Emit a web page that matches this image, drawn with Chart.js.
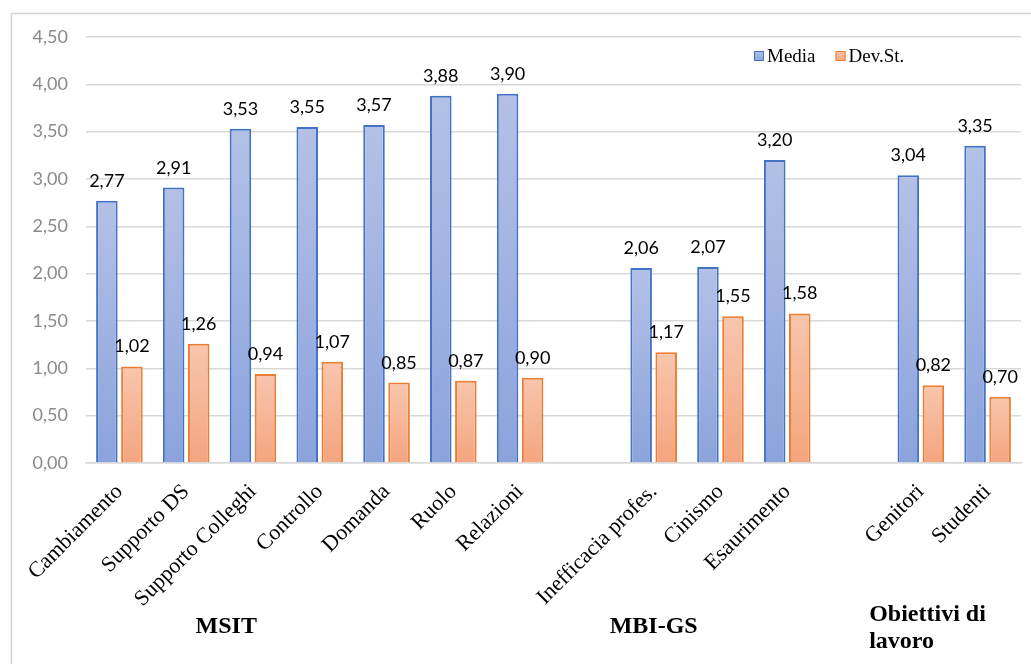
<!DOCTYPE html>
<html>
<head>
<meta charset="utf-8">
<script src="https://cdn.jsdelivr.net/npm/chart.js@4.4.1/dist/chart.umd.min.js"></script>
<style>
  html, body { margin: 0; padding: 0; background: #ffffff; }
  #wrap { width: 1031px; height: 664px; position: relative; }
</style>
</head>
<body>
<div id="wrap"><canvas id="c" width="1031" height="664"></canvas></div>
<script>
// Scale names; empty entries leave a gap between the three questionnaires
const categories = [
  'Cambiamento', 'Supporto DS', 'Supporto Colleghi', 'Controllo', 'Domanda', 'Ruolo', 'Relazioni',
  '',
  'Inefficacia profes.', 'Cinismo', 'Esaurimento',
  '',
  'Genitori', 'Studenti'
];
const media  = [2.77, 2.91, 3.53, 3.55, 3.57, 3.88, 3.90, null, 2.06, 2.07, 3.20, null, 3.04, 3.35];
const devSt  = [1.02, 1.26, 0.94, 1.07, 0.85, 0.87, 0.90, null, 1.17, 1.55, 1.58, null, 0.82, 0.70];
const seriesNames = ['Media', 'Dev.St.'];
const yTicks = [0, 0.5, 1, 1.5, 2, 2.5, 3, 3.5, 4, 4.5];

// Questionnaire captions under the axis: text lines and the category index they sit at
const groupNames = [['MSIT'], ['MBI-GS'], ['Obiettivi di', 'lavoro']];
const groupAt = [1.6, 8.0, 12.1];

const fmt = v => v.toFixed(2).replace('.', ',');

const palette = {
  media: { top: '#b3c1e6', bottom: '#8ba3dc', border: '#4472c4' },
  dev:   { top: '#f8c6ae', bottom: '#f4a57f', border: '#ed7d31' }
};

// Each bar gets its own vertical gradient, light at the top and deeper at the base
function barGradient(p) {
  return function (context) {
    const chart = context.chart;
    const area = chart.chartArea;
    const raw = context.raw;
    if (!area || raw === null || raw === undefined) return p.bottom;
    const y = chart.scales.y;
    const top = y.getPixelForValue(raw);
    const base = y.getPixelForValue(0);
    const g = chart.ctx.createLinearGradient(0, top, 0, base);
    g.addColorStop(0, p.top);
    g.addColorStop(1, p.bottom);
    return g;
  };
}

const framePlugin = {
  id: 'frame',
  beforeDraw(chart) {
    const ctx = chart.ctx;
    ctx.save();
    ctx.strokeStyle = '#d4d4d4';
    ctx.lineWidth = 1.5;
    ctx.strokeRect(11.5, 13.5, 1100, 700);
    ctx.restore();
  }
};

const valueLabels = {
  id: 'valueLabels',
  afterDatasetsDraw(chart) {
    const ctx = chart.ctx;
    ctx.save();
    ctx.font = '18px Lato';
    ctx.fillStyle = '#000000';
    ctx.textAlign = 'center';
    ctx.textBaseline = 'alphabetic';
    chart.data.datasets.forEach((ds, di) => {
      const meta = chart.getDatasetMeta(di);
      meta.data.forEach((bar, i) => {
        const v = ds.data[i];
        if (v === null || v === undefined) return;
        ctx.fillText(fmt(v), bar.x, bar.y - 14);
      });
    });
    ctx.restore();
  }
};

const legendBox = {
  id: 'legendBox',
  afterDraw(chart) {
    const ctx = chart.ctx;
    const area = chart.chartArea;
    const colors = [palette.media, palette.dev];
    let x = area.right - 267;
    const y = 56;
    ctx.save();
    ctx.font = '19px "Liberation Serif"';
    ctx.textBaseline = 'middle';
    ctx.textAlign = 'left';
    chart.data.datasets.forEach((ds, i) => {
      const c = colors[i];
      const g = ctx.createLinearGradient(0, y - 5, 0, y + 5);
      g.addColorStop(0, c.top);
      g.addColorStop(1, c.bottom);
      ctx.fillStyle = g;
      ctx.fillRect(x, y - 5, 10, 10);
      ctx.strokeStyle = c.border;
      ctx.lineWidth = 1;
      ctx.strokeRect(x + 0.5, y - 4.5, 9, 9);
      ctx.fillStyle = '#000000';
      ctx.fillText(ds.label, x + 13, y + 1);
      x += 13 + ctx.measureText(ds.label).width + 20;
    });
    ctx.restore();
  }
};

const groupCaptions = {
  id: 'groupCaptions',
  afterDraw(chart) {
    const ctx = chart.ctx;
    const xs = chart.scales.x;
    ctx.save();
    ctx.font = 'bold 24px "Liberation Serif"';
    ctx.fillStyle = '#000000';
    ctx.textBaseline = 'alphabetic';
    groupNames.forEach((lines, gi) => {
      const cx = xs.getPixelForValue(groupAt[gi]);
      if (lines.length === 1) {
        ctx.textAlign = 'center';
        ctx.fillText(lines[0], cx, 633);
      } else {
        ctx.textAlign = 'left';
        const w = ctx.measureText(lines[0]).width;
        lines.forEach((t, li) => ctx.fillText(t, cx - w / 2, 621 + li * 27));
      }
    });
    ctx.restore();
  }
};

new Chart(document.getElementById('c'), {
  type: 'bar',
  data: {
    labels: categories,
    datasets: [
      {
        label: seriesNames[0],
        data: media,
        backgroundColor: barGradient(palette.media),
        borderColor: palette.media.border,
        borderWidth: 2,
        categoryPercentage: 0.75,
        barPercentage: 0.86
      },
      {
        label: seriesNames[1],
        data: devSt,
        backgroundColor: barGradient(palette.dev),
        borderColor: palette.dev.border,
        borderWidth: 2,
        categoryPercentage: 0.75,
        barPercentage: 0.86
      }
    ]
  },
  options: {
    responsive: false,
    animation: false,
    layout: { padding: { left: 0, right: 10, top: 37, bottom: 0 } },
    plugins: {
      legend: { display: false },
      tooltip: { enabled: false }
    },
    scales: {
      x: {
        grid: { display: false, drawTicks: false },
        border: { display: true, color: '#d9d9d9', width: 1.5 },
        ticks: {
          autoSkip: false,
          minRotation: 45,
          maxRotation: 45,
          padding: 16,
          color: '#000000',
          font: { family: '"Liberation Serif"', size: 22 }
        },
        afterFit(scale) { scale.height = 201; }
      },
      y: {
        min: 0,
        max: 4.5,
        afterBuildTicks(scale) { scale.ticks = yTicks.map(v => ({ value: v })); },
        grid: { color: '#d9d9d9', lineWidth: 1.5, drawTicks: false },
        border: { display: false },
        ticks: {
          padding: 18,
          color: '#8a8a8a',
          font: { family: 'Lato', size: 18 },
          callback: v => fmt(v)
        },
        afterFit(scale) { scale.width = 86; }
      }
    }
  },
  plugins: [framePlugin, valueLabels, legendBox, groupCaptions]
});
</script>
</body>
</html>
